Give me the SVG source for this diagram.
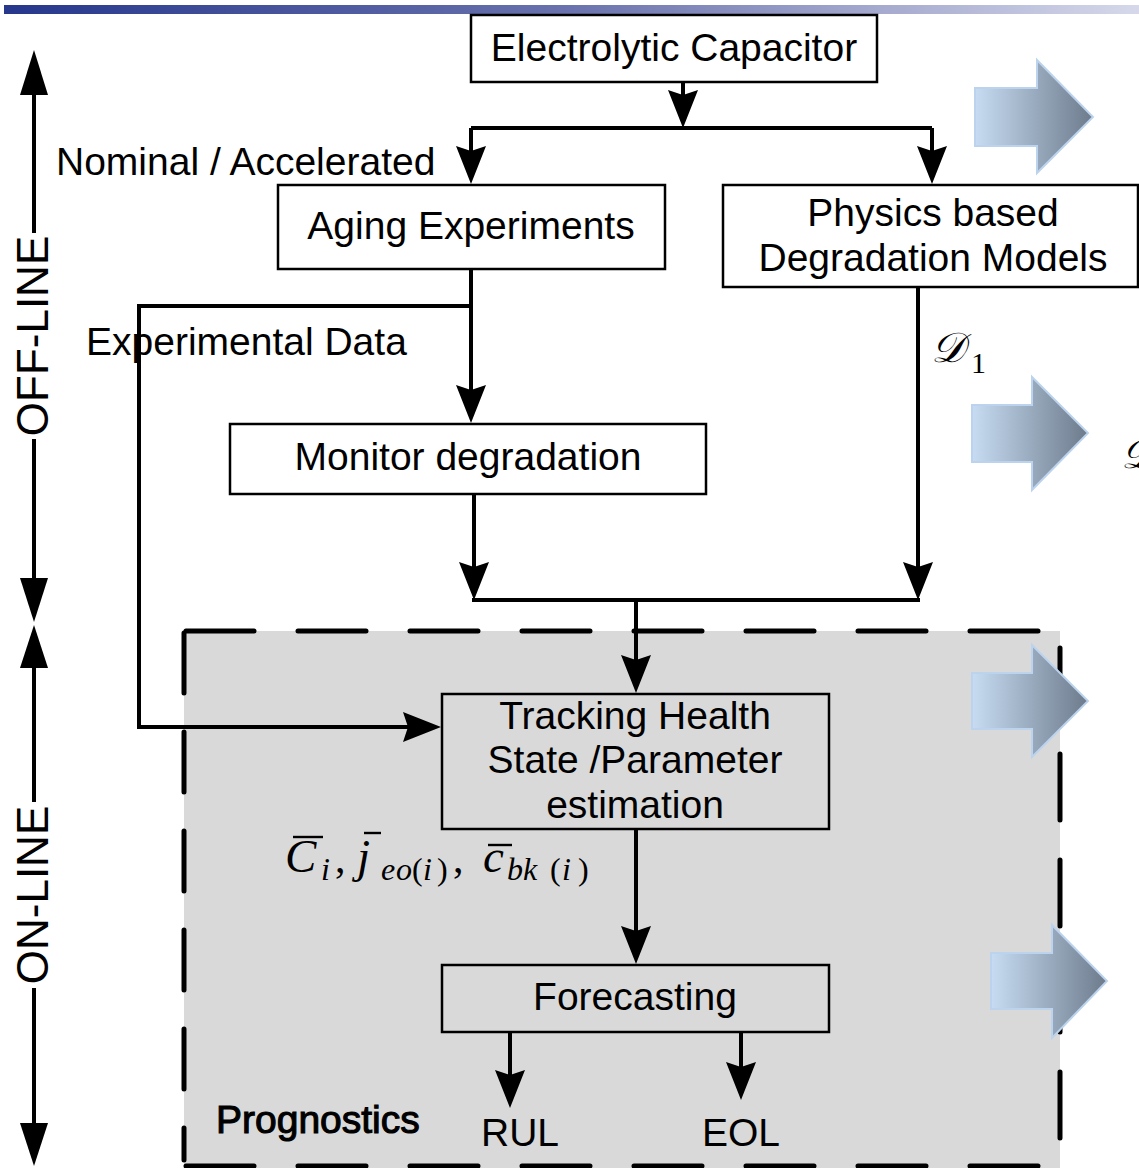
<svg xmlns="http://www.w3.org/2000/svg" width="1139" height="1168" viewBox="0 0 1139 1168">
  <defs>
    <linearGradient id="barGrad" x1="0" y1="0" x2="1" y2="0">
      <stop offset="0" stop-color="#26378c"/>
      <stop offset="0.5" stop-color="#6a73ad"/>
      <stop offset="1" stop-color="#d6d8ea"/>
    </linearGradient>
    <linearGradient id="blockGrad" x1="0" y1="0" x2="1" y2="0">
      <stop offset="0" stop-color="#c7dcf2"/>
      <stop offset="1" stop-color="#6d7b8c"/>
    </linearGradient>
    <marker id="ah" markerUnits="userSpaceOnUse" viewBox="0 -16 40 32" refX="28" refY="0" markerWidth="40" markerHeight="32" orient="auto">
      <path d="M0,-15 L38,0 L0,15 L5,0 Z" fill="#000"/>
    </marker>
    <style>
      .box { fill: #fff; stroke: #000; stroke-width: 2.5; }
      .box2 { fill: none; stroke: #000; stroke-width: 2.5; }
      .lbl { font-family: "Liberation Sans", Arial, sans-serif; font-size: 39px; fill: #000; }
      .mid { text-anchor: middle; }
      .side { font-family: "Liberation Sans", Arial, sans-serif; font-size: 44px; fill: #000; text-anchor: middle; }
      .wire { fill: none; stroke: #000; stroke-width: 4; }
      .arr { marker-end: url(#ah); }
      .dash { fill: none; stroke: #000; stroke-width: 5; stroke-linecap: round; }
      .blk { fill: url(#blockGrad); stroke: #bcd3ee; stroke-width: 2; }
      .math { font-family: "Liberation Serif", "Times New Roman", serif; fill: #000; }
      .it { font-style: italic; }
      .bar { stroke: #000; stroke-width: 2.4; }
    </style>
  </defs>

  <rect width="1139" height="1168" fill="#fff"/>

  <!-- title strip -->
  <rect x="4" y="5" width="1135" height="9" fill="url(#barGrad)"/>

  <!-- on-line prognostics region -->
  <g id="prognostics-region">
    <rect x="184" y="631" width="876" height="537" fill="#d9d9d9"/>
    <line class="dash" x1="186" y1="631" x2="1045" y2="631" stroke-dasharray="68 44"/>
    <line class="dash" x1="186" y1="1166" x2="1045" y2="1166" stroke-dasharray="68 44"/>
    <line class="dash" x1="184" y1="633" x2="184" y2="1160" stroke-dasharray="60 39"/>
    <line class="dash" x1="1060" y1="648" x2="1060" y2="1160" stroke-dasharray="66 40"/>
    <text class="lbl" x="216" y="1133" font-size="35" stroke="#000" stroke-width="1.1">Prognostics</text>
  </g>

  <!-- OFF-LINE / ON-LINE span arrows -->
  <g id="span-axis">
    <line class="wire" x1="34" y1="90" x2="34" y2="233"/>
    <line class="wire" x1="34" y1="439" x2="34" y2="585"/>
    <polygon points="34,50 20,95 48,95" fill="#000"/>
    <polygon points="34,622 20,578 48,578" fill="#000"/>
    <text class="side" transform="translate(48,336) rotate(-90)">OFF-LINE</text>

    <line class="wire" x1="34" y1="660" x2="34" y2="802"/>
    <line class="wire" x1="34" y1="988" x2="34" y2="1128"/>
    <polygon points="34,625 20,668 48,668" fill="#000"/>
    <polygon points="34,1166 20,1123 48,1123" fill="#000"/>
    <text class="side" transform="translate(48,895) rotate(-90)">ON-LINE</text>
  </g>

  <!-- connectors -->
  <g id="connectors">
    <line class="wire arr" x1="683" y1="82" x2="683" y2="118"/>
    <polyline class="wire" points="471,128 932,128"/>
    <line class="wire arr" x1="471" y1="128" x2="471" y2="174"/>
    <line class="wire arr" x1="932" y1="128" x2="932" y2="174"/>
    <line class="wire arr" x1="471" y1="269" x2="471" y2="413"/>
    <polyline class="wire arr" points="471,306 139,306 139,727 431,727"/>
    <line class="wire arr" x1="474" y1="494" x2="474" y2="590"/>
    <line class="wire arr" x1="918" y1="287" x2="918" y2="590"/>
    <line class="wire" x1="472" y1="600" x2="920" y2="600"/>
    <line class="wire arr" x1="636" y1="600" x2="636" y2="683"/>
    <line class="wire arr" x1="636" y1="829" x2="636" y2="954"/>
    <line class="wire arr" x1="510" y1="1032" x2="510" y2="1098"/>
    <line class="wire arr" x1="741" y1="1032" x2="741" y2="1090"/>
  </g>

  <!-- connector labels -->
  <g id="connector-labels">
    <text class="lbl" x="56" y="175">Nominal / Accelerated</text>
    <text class="lbl" x="86" y="355">Experimental Data</text>
    <text class="math it" x="931" y="362" font-size="42">𝒟</text>
    <text class="math" x="971" y="373" font-size="30">1</text>
    <text class="lbl mid" x="520" y="1146">RUL</text>
    <text class="lbl mid" x="741" y="1146">EOL</text>
  </g>

  <!-- nodes -->
  <g id="capacitor">
    <rect class="box" x="471" y="15" width="406" height="67"/>
    <text class="lbl mid" x="674" y="61">Electrolytic Capacitor</text>
  </g>

  <g id="aging-experiments">
    <rect class="box" x="278" y="185" width="387" height="84"/>
    <text class="lbl mid" x="471" y="239">Aging Experiments</text>
  </g>

  <g id="physics-models">
    <rect class="box" x="723" y="185" width="415" height="102"/>
    <text class="lbl mid" x="933" y="226">Physics based</text>
    <text class="lbl mid" x="933" y="271">Degradation Models</text>
  </g>

  <g id="monitor-degradation">
    <rect class="box" x="230" y="424" width="476" height="70"/>
    <text class="lbl mid" x="468" y="470">Monitor degradation</text>
  </g>

  <g id="tracking">
    <rect class="box2" x="442" y="694" width="387" height="135"/>
    <text class="lbl mid" x="635" y="729">Tracking Health</text>
    <text class="lbl mid" x="635" y="773">State /Parameter</text>
    <text class="lbl mid" x="635" y="818">estimation</text>
  </g>

  <g id="forecasting">
    <rect class="box2" x="442" y="965" width="387" height="67"/>
    <text class="lbl mid" x="635" y="1010">Forecasting</text>
  </g>

  <!-- estimated parameters -->
  <g id="estimates">
    <text class="math it" x="285" y="872" font-size="47">C</text>
    <line class="bar" x1="293" y1="837" x2="323" y2="837"/>
    <text class="math it" x="321" y="880" font-size="32">i</text>
    <text class="math" x="335" y="872" font-size="42">,</text>
    <text class="math it" x="357" y="872" font-size="47">j</text>
    <line class="bar" x1="364" y1="833" x2="381" y2="833"/>
    <text class="math" y="880" font-size="32"><tspan class="it" x="381">e</tspan><tspan class="it" x="396">o</tspan><tspan x="412">(</tspan><tspan class="it" x="423">i</tspan><tspan x="437">)</tspan></text>
    <text class="math" x="453" y="872" font-size="42">,</text>
    <text class="math it" x="483" y="872" font-size="47">c</text>
    <line class="bar" x1="488" y1="845" x2="512" y2="845"/>
    <text class="math" y="880" font-size="32"><tspan class="it" x="507">b</tspan><tspan class="it" x="523">k</tspan><tspan x="550">(</tspan><tspan class="it" x="562">i</tspan><tspan x="578">)</tspan></text>
  </g>

  <!-- block arrows along the right edge -->
  <g id="block-arrows">
    <polygon class="blk" points="975,88 1037,88 1037,60 1093,117 1037,173 1037,146 975,146"/>
    <polygon class="blk" points="972,405 1032,405 1032,377 1088,433 1032,490 1032,462 972,462"/>
    <polygon class="blk" points="972,673 1032,673 1032,645 1088,701 1032,757 1032,729 972,729"/>
    <polygon class="blk" points="991,953 1052,953 1052,925 1107,981 1052,1038 1052,1009 991,1009"/>
    <text class="math it" x="1121" y="468" font-size="42">𝒟</text>
  </g>
</svg>
